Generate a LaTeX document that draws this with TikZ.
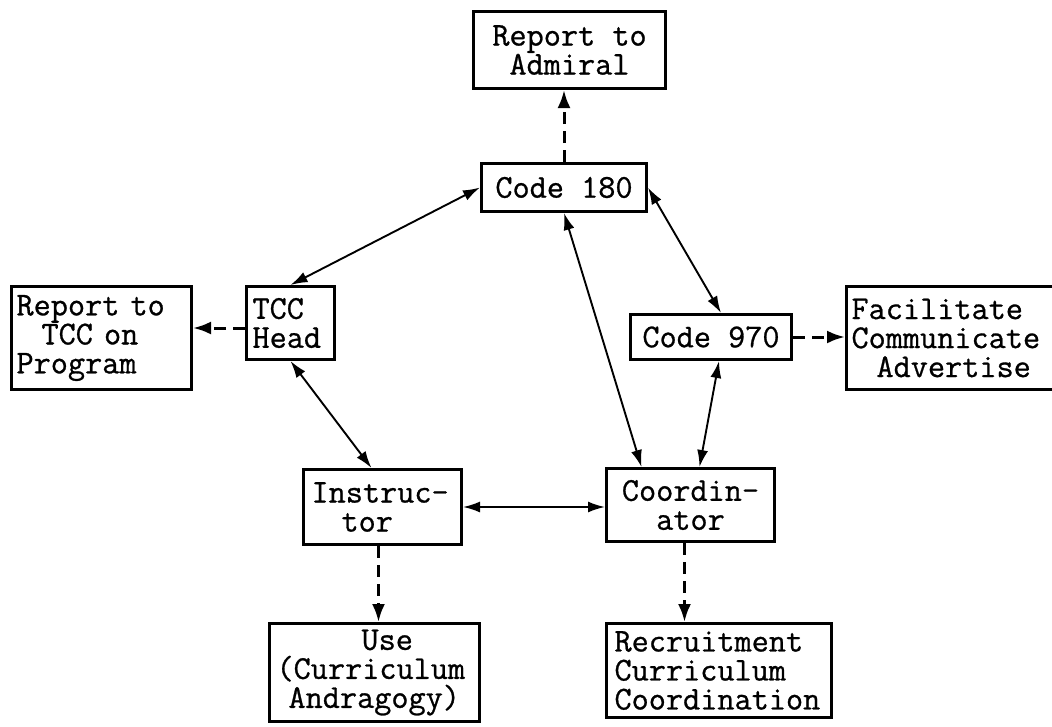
\documentclass[tikz,border=0pt]{standalone}
\usepackage{fontspec}
\newfontfamily\mono{Latin Modern Mono}[WordSpace={1,0,0},FakeBold=0.8]
\usetikzlibrary{arrows.meta}
\begin{document}
\begin{tikzpicture}[x=1pt,y=-1pt,
  box/.style={draw, line width=3pt, inner ysep=0pt, anchor=north west,
    font=\mono\fontsize{33.3}{29}\selectfont},
  link/.style={line width=1.9pt,
    {Latex[length=17pt,width=11pt]}-{Latex[length=17pt,width=11pt]}},
  flow/.style={line width=3pt, dash pattern=on 12pt off 7pt,
    -{Latex[length=18pt,width=13pt]}}]
\clip (0,0) rectangle (1052,726);

% boxes
\node[box, minimum width=192pt, minimum height=77pt, align=center] (adm) at (472,10) {Report to\\Admiral};
\node[box, minimum width=165pt, minimum height=48pt] (c180) at (480,162) {Code 180};
\node[box, minimum height=103pt, align=left, text width=170pt, inner xsep=5pt] (rep) at (10,285)
  {Report to\\\hspace*{25pt}TCC on\\Program};
\node[box, minimum height=73pt, align=left, text width=76pt, inner xsep=6pt] (tcc) at (245,285) {TCC\\Head};
\node[box, minimum width=161pt, minimum height=45pt] (c970) at (629,313) {Code 970};
\node[box, minimum height=103pt, align=left, text width=205pt, inner xsep=5pt] (fac) at (845,285)
  {Facilitate\\Communicate\\\hspace*{25pt}Advertise};
\node[box, minimum height=75pt, align=left, text width=142pt, inner xsep=8pt] (instr) at (302,468)
  {Instruc-\\\hspace*{30pt}tor};
\node[box, minimum width=168pt, minimum height=73pt, align=center] (coord) at (605,467) {Coordin-\\ator};
\node[box, minimum height=98pt, align=left, text width=196pt, inner xsep=7pt] (use) at (268,622)
  {\hspace*{85pt}Use\\(Curriculum\\\hspace*{12pt}Andragogy)};
\node[box, minimum height=94pt, align=left, text width=209pt, inner xsep=8pt] (rec) at (605,622)
  {Recruitment\\Curriculum\\Coordination};

% two-way links
\draw[link] (c180.west) -- (tcc.north);
\draw[link] (c180.east) -- ([xshift=10pt]c970.north);
\draw[link] (c180.south) -- ([xshift=-49pt]coord.north);
\draw[link] ([xshift=8pt]c970.south) -- ([xshift=9pt]coord.north);
\draw[link] (tcc.south) -- ([xshift=-11pt]instr.north);
\draw[link] (instr.east) -- (instr.east -| coord.west);

% dashed outputs
\draw[flow] (c180.north) -- (c180.north |- adm.south);
\draw[flow] ([yshift=-5pt]tcc.west) -- ([yshift=-5pt]tcc.west -| rep.east);
\draw[flow] (c970.east) -- (c970.east -| fac.west);
\draw[flow] ([xshift=-4pt]instr.south) -- ([xshift=-4pt]instr.south |- use.north);
\draw[flow] ([xshift=-6pt]coord.south) -- ([xshift=-6pt]coord.south |- rec.north);
\end{tikzpicture}
\end{document}
